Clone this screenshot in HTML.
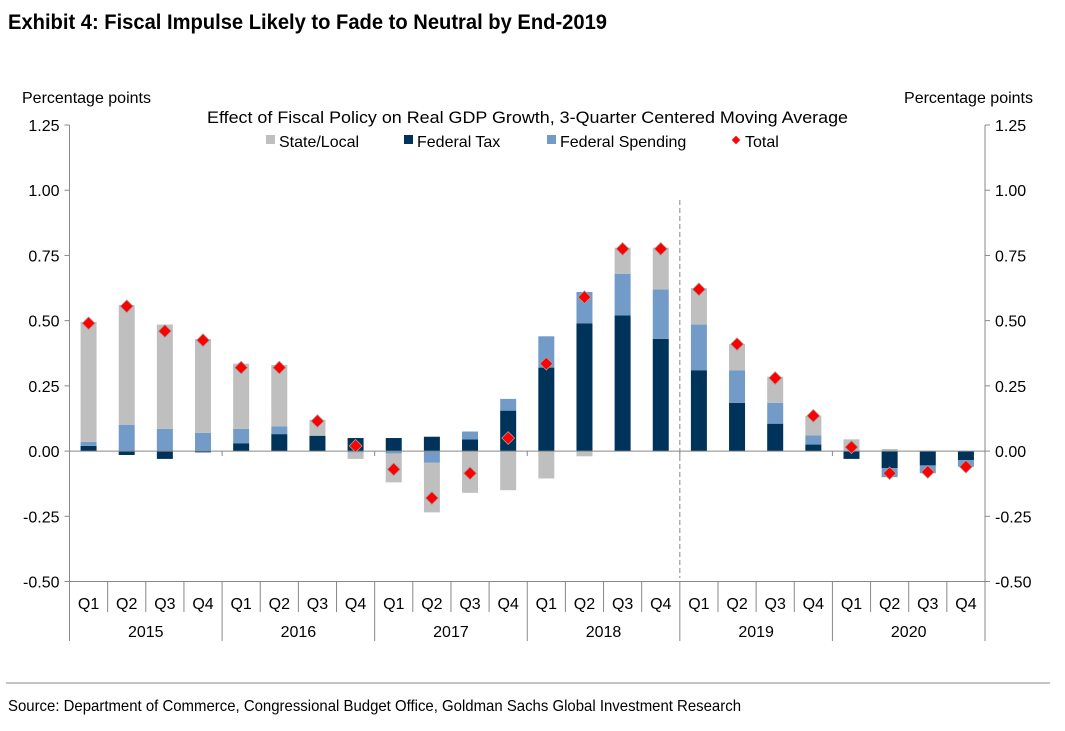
<!DOCTYPE html>
<html><head><meta charset="utf-8"><style>
body{margin:0;background:#fff;}
svg text{font-family:"Liberation Sans",Arial,sans-serif;fill:#000;}
</style></head><body>
<svg id="chart" width="1065" height="726" xmlns="http://www.w3.org/2000/svg">
<text x="8" y="29" textLength="599" lengthAdjust="spacingAndGlyphs" style="font-family:'Liberation Sans Narrow','Liberation Sans',sans-serif;font-weight:bold;font-size:21px;">Exhibit 4: Fiscal Impulse Likely to Fade to Neutral by End-2019</text>
<text x="22" y="103" font-size="16">Percentage points</text>
<text x="1033" y="103" font-size="16" text-anchor="end">Percentage points</text>
<text x="207" y="123" font-size="16.5" textLength="641" lengthAdjust="spacingAndGlyphs">Effect of Fiscal Policy on Real GDP Growth, 3-Quarter Centered Moving Average</text>
<g>
<rect x="266" y="135" width="9" height="9" fill="#bfbfbf"/>
<text x="279" y="147" font-size="16">State/Local</text>
<rect x="404" y="135" width="9" height="9" fill="#003359"/>
<text x="417" y="147" font-size="16">Federal Tax</text>
<rect x="547" y="135" width="9" height="9" fill="#739bc8"/>
<text x="560" y="147" font-size="16">Federal Spending</text>
<rect x="733" y="137" width="6" height="6" fill="#ff0000" transform="rotate(45 736 140)"/>
<text x="745" y="147" font-size="16">Total</text>
</g>
<g id="plot"></g>
<line x1="6" y1="683" x2="1050" y2="683" stroke="#888" stroke-width="1"/>
<text x="8" y="711" textLength="733" lengthAdjust="spacingAndGlyphs" style="font-family:'Liberation Sans Narrow','Liberation Sans',sans-serif;font-size:16px;">Source: Department of Commerce, Congressional Budget Office, Goldman Sachs Global Investment Research</text>
</svg>
<script>
const years = ["2015","2016","2017","2018","2019","2020"];
const quarters = ["Q1","Q2","Q3","Q4"];
const stateLocal = [0.46,0.46,0.40,0.36,0.25,0.235,0.06,-0.025,-0.11,-0.19,-0.16,-0.15,-0.105,-0.02,0.10,0.16,0.14,0.10,0.10,0.075,0.045,0.008,0,0];
const federalTax = [0.02,-0.015,-0.03,-0.005,0.03,0.065,0.058,0.05,0.05,0.055,0.045,0.155,0.32,0.49,0.52,0.43,0.31,0.185,0.105,0.025,-0.03,-0.065,-0.055,-0.035];
const federalSpending = [0.015,0.10,0.085,0.07,0.055,0.03,0.002,-0.005,-0.01,-0.045,0.03,0.045,0.12,0.12,0.16,0.19,0.175,0.125,0.08,0.035,0,-0.035,-0.03,-0.025];
const total = [0.49,0.555,0.46,0.425,0.32,0.32,0.115,0.02,-0.07,-0.18,-0.085,0.05,0.335,0.59,0.775,0.775,0.62,0.41,0.28,0.135,0.015,-0.085,-0.08,-0.06];
const yTicks = [1.25,1.00,0.75,0.50,0.25,0.00,-0.25,-0.50];
const yTickLabels = ["1.25","1.00","0.75","0.50","0.25","0.00","-0.25","-0.50"];
const forecastStart = 16;

const NS="http://www.w3.org/2000/svg";
const g=document.getElementById('plot');
const X0=69.5,X1=985,YT=125,YB=581.5,YMAX=1.25,YMIN=-0.5;
const n=years.length*quarters.length;
const cw=(X1-X0)/n;
function y(v){return YT+(YMAX-v)/(YMAX-YMIN)*(YB-YT);}
function xc(i){return X0+cw*(i+0.5);}
function mk(t,a){const e=document.createElementNS(NS,t);for(const k in a)e.setAttribute(k,a[k]);g.appendChild(e);return e;}

let e;
e=mk('line',{x1:X0,y1:YT,x2:X0,y2:YB,stroke:'#888'});


e=mk('line',{x1:X1,y1:YT,x2:X1,y2:YB,stroke:'#888'});


yTicks.forEach((v,k)=>{
  e=mk('line',{x1:X0-5,y1:y(v),x2:X0,y2:y(v),stroke:'#888'});
  
  
  e=mk('line',{x1:X1,y1:y(v),x2:X1+5,y2:y(v),stroke:'#888'});
  
  
  e=mk('text',{x:X0-10,y:y(v)+6,'font-size':16,'text-anchor':'end'});e.textContent=yTickLabels[k];
  
  
  e=mk('text',{x:X1+10,y:y(v)+6,'font-size':16});e.textContent=yTickLabels[k];
  
  
});
const colors={s:'#bfbfbf',t:'#003359',p:'#739bc8'};
for(let i=0;i<n;i++){
  let pos=0,neg=0;
  [['t',federalTax[i]],['p',federalSpending[i]],['s',stateLocal[i]]].forEach(([k,v])=>{
    let a,b;
    if(v>=0){a=pos;b=pos+v;pos=b;}else{a=neg;b=neg+v;neg=b;}
    e=mk('rect',{x:xc(i)-8,y:Math.min(y(a),y(b)),width:16,height:Math.abs(y(a)-y(b)),fill:colors[k]});
    
    
  });
}
e=mk('line',{x1:X0,y1:y(0),x2:X1,y2:y(0),stroke:'#888'});


for(let j=0;j<=years.length;j++){
  e=mk('line',{x1:X0+cw*4*j,y1:y(0),x2:X0+cw*4*j,y2:y(0)+5,stroke:'#888'});
  
  
}
e=mk('line',{x1:X0+cw*forecastStart,y1:200,x2:X0+cw*forecastStart,y2:578,stroke:'#888','stroke-dasharray':'5,3'});


for(let i=0;i<n;i++){
  e=mk('rect',{x:xc(i)-4.5,y:y(total[i])-4.5,width:9,height:9,fill:'#ff0000',stroke:'#a0a0a0','stroke-width':0.8,transform:`rotate(45 ${xc(i)} ${y(total[i])})`});
  
  
}
e=mk('line',{x1:X0,y1:YB,x2:X1,y2:YB,stroke:'#888'});


for(let i=0;i<=n;i++){
  const yr=i%4===0;
  e=mk('line',{x1:X0+cw*i,y1:YB,x2:X0+cw*i,y2:yr?641:612,stroke:'#888'});
  
  
}
for(let i=0;i<n;i++){
  e=mk('text',{x:xc(i),y:609,'font-size':16,'text-anchor':'middle'});e.textContent=quarters[i%4];
  
  
}
years.forEach((yr,j)=>{
  e=mk('text',{x:X0+cw*(4*j+2),y:637,'font-size':16,'text-anchor':'middle'});e.textContent=yr;
  
  
});
</script>
</body></html>
